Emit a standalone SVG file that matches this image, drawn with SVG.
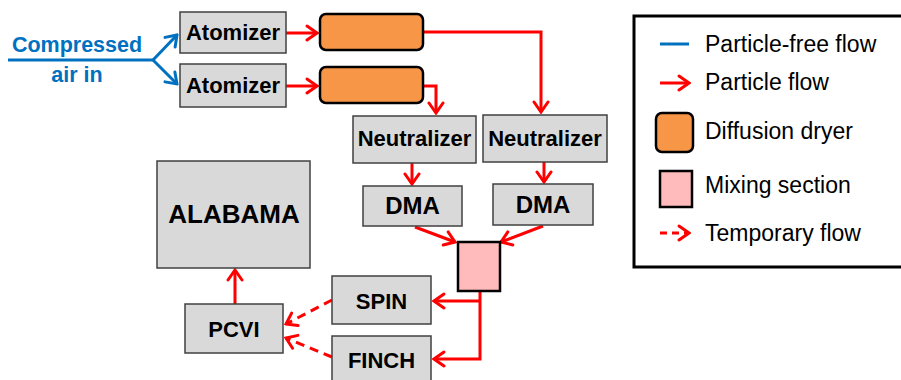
<svg xmlns="http://www.w3.org/2000/svg" width="901" height="380" viewBox="0 0 901 380">
<defs>
<style>
.box{fill:#D9D9D9;stroke:#404040;stroke-width:1.5}
.dry{fill:#F79646;stroke:#000;stroke-width:2.5}
.mix{fill:#FFBBBB;stroke:#000;stroke-width:2.5}
.t{font-family:"Liberation Sans",Arial,sans-serif;font-weight:bold;font-size:22px;fill:#000;text-anchor:middle}
.lg{font-family:"Liberation Sans",Arial,sans-serif;font-size:23px;fill:#000}
.red{fill:none;stroke:#FF0000;stroke-width:3}
.dash{fill:none;stroke:#FF0000;stroke-width:3;stroke-dasharray:9,6}
.blue{fill:none;stroke:#0070C0;stroke-width:3}
</style>
<marker id="ar" markerUnits="userSpaceOnUse" viewBox="-13 -9 15 18" refX="0" refY="0" markerWidth="15" markerHeight="18" orient="auto">
<path d="M-10,-7 L0,0 L-10,7" fill="none" stroke="#FF0000" stroke-width="3" stroke-linecap="round" stroke-linejoin="miter"/>
</marker>
<marker id="ab" markerUnits="userSpaceOnUse" viewBox="-13 -9 15 18" refX="0" refY="0" markerWidth="15" markerHeight="18" orient="auto">
<path d="M-10,-7 L0,0 L-10,7" fill="none" stroke="#0070C0" stroke-width="3" stroke-linecap="round"/>
</marker>
</defs>
<rect width="901" height="380" fill="#fff"/>

<g id="connectors">
<path class="blue" d="M8,60 H153"/>
<path class="blue" d="M153,60 L177,35" marker-end="url(#ab)"/>
<path class="blue" d="M153,60 L177,84" marker-end="url(#ab)"/>
<path class="red" d="M286,33 H317" marker-end="url(#ar)"/>
<path class="red" d="M286,86 H317" marker-end="url(#ar)"/>
<path class="red" d="M423,32 H541 V112" marker-end="url(#ar)"/>
<path class="red" d="M423,86 H436 V113" marker-end="url(#ar)"/>
<path class="red" d="M412,163 V184" marker-end="url(#ar)"/>
<path class="red" d="M544,162 V182" marker-end="url(#ar)"/>
<path class="red" d="M415,227 L455,242" marker-end="url(#ar)"/>
<path class="red" d="M543,226 L501,242" marker-end="url(#ar)"/>
<path class="red" d="M480,291 V359 H434" marker-end="url(#ar)"/>
<path class="red" d="M480,301 H434" marker-end="url(#ar)"/>
<path class="dash" d="M332,300 L286,324" marker-end="url(#ar)"/>
<path class="dash" d="M332,357 L286,338" marker-end="url(#ar)"/>
<path class="red" d="M235,304 V270" marker-end="url(#ar)"/>
</g>

<g id="input-label">
<text x="77" y="52" font-family="'Liberation Sans',Arial,sans-serif" font-weight="bold" font-size="21.5" fill="#0070C0" text-anchor="middle">Compressed</text>
<text x="77" y="82" font-family="'Liberation Sans',Arial,sans-serif" font-weight="bold" font-size="21.5" fill="#0070C0" text-anchor="middle">air in</text>
</g>

<g id="atomizer1"><rect class="box" x="180" y="12" width="106" height="41"/><text class="t" x="233" y="40">Atomizer</text></g>
<g id="atomizer2"><rect class="box" x="180" y="64" width="106" height="43"/><text class="t" x="233" y="93">Atomizer</text></g>
<g id="dryer1"><rect class="dry" x="320" y="14" width="103" height="36" rx="6"/></g>
<g id="dryer2"><rect class="dry" x="320" y="67" width="103" height="36" rx="6"/></g>
<g id="neutralizer1"><rect class="box" x="353" y="116" width="123" height="47"/><text class="t" x="414.5" y="146">Neutralizer</text></g>
<g id="neutralizer2"><rect class="box" x="483" y="115" width="124" height="47"/><text class="t" x="545" y="146">Neutralizer</text></g>
<g id="dma1"><rect class="box" x="363" y="186" width="99" height="40"/><text class="t" x="412.5" y="214" style="font-size:24px">DMA</text></g>
<g id="dma2"><rect class="box" x="493" y="184" width="100" height="41"/><text class="t" x="543" y="213" style="font-size:24px">DMA</text></g>
<g id="mixing"><rect class="mix" x="458" y="242" width="42" height="49"/></g>
<g id="spin"><rect class="box" x="332" y="276" width="99" height="48"/><text class="t" x="381.5" y="309">SPIN</text></g>
<g id="finch"><rect class="box" x="332" y="336" width="99" height="46"/><text class="t" x="381.5" y="368">FINCH</text></g>
<g id="pcvi"><rect class="box" x="185" y="304" width="98" height="49"/><text class="t" x="234" y="337">PCVI</text></g>
<g id="alabama"><rect class="box" x="157" y="161" width="153" height="107"/><text class="t" x="234" y="223" style="font-size:26px">ALABAMA</text></g>

<g id="legend">
<rect x="634" y="16" width="280" height="251" fill="#fff" stroke="#000" stroke-width="3"/>
<path class="blue" d="M660,44 H689"/>
<text class="lg" x="705" y="52">Particle-free flow</text>
<path class="red" d="M660,83 H689" marker-end="url(#ar)"/>
<text class="lg" x="705" y="90">Particle flow</text>
<rect class="dry" x="656" y="113" width="37" height="39" rx="6"/>
<text class="lg" x="705" y="139">Diffusion dryer</text>
<rect class="mix" x="660" y="171" width="32" height="36"/>
<text class="lg" x="705" y="193">Mixing section</text>
<path class="dash" d="M660,233 H689" marker-end="url(#ar)" style="stroke-dasharray:7,5"/>
<text class="lg" x="705" y="241">Temporary flow</text>
</g>
</svg>
